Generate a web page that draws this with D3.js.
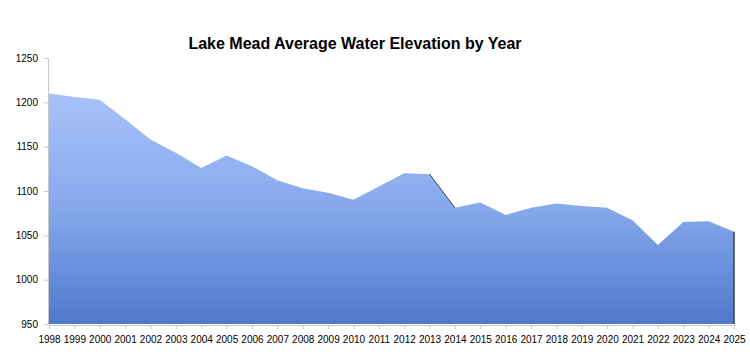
<!DOCTYPE html>
<html>
<head>
<meta charset="utf-8">
<script src="https://cdn.jsdelivr.net/npm/d3@7"></script>
<style>
  body { margin: 0; background: #fff; }
  text { font-family: "Liberation Sans", Arial, sans-serif; fill: #000; }
</style>
</head>
<body>
<svg id="chart" width="750" height="352"></svg>
<script>
// data
const years = [1998, 1999, 2000, 2001, 2002, 2003, 2004, 2005, 2006, 2007,
  2008, 2009, 2010, 2011, 2012, 2013, 2014, 2015, 2016, 2017,
  2018, 2019, 2020, 2021, 2022, 2023, 2024, 2025];
const elevation = [1210, 1206, 1203, 1181, 1158, 1143, 1126, 1140, 1128, 1112,
  1103, 1098, 1090, 1105, 1120, 1119, 1081, 1087, 1073, 1081,
  1086, 1083, 1081, 1067, 1039, 1065, 1066, 1054];
const yTicks = [950, 1000, 1050, 1100, 1150, 1200, 1250];
const title = 'Lake Mead Average Water Elevation by Year';

// layout
const plotLeft = 49, plotRight = 734, plotTop = 58, plotBottom = 324;

const svg = d3.select('#chart');

const x = d3.scalePoint()
  .domain(years)
  .range([plotLeft, plotRight]);

const y = d3.scaleLinear()
  .domain([950, 1250])
  .range([plotBottom, plotTop]);

// gradient fill like the spreadsheet area chart
const defs = svg.append('defs');
const grad = defs.append('linearGradient')
  .attr('id', 'fillGrad')
  .attr('gradientUnits', 'userSpaceOnUse')
  .attr('x1', 0).attr('x2', 0)
  .attr('y1', y(d3.max(elevation))).attr('y2', plotBottom);
grad.append('stop').attr('offset', '0%').attr('stop-color', '#a7c2fa');
grad.append('stop').attr('offset', '50%').attr('stop-color', '#86a8ec');
grad.append('stop').attr('offset', '100%').attr('stop-color', '#5079cc');

const rows = years.map((yr, i) => ({ year: yr, value: elevation[i] }));

const area = d3.area()
  .x(d => x(d.year))
  .y0(plotBottom)
  .y1(d => y(d.value));

svg.append('path')
  .datum(rows)
  .attr('d', area)
  .attr('fill', 'url(#fillGrad)');

// dark edges seen on the reference (2013->2014 slope and right side)
const i13 = years.indexOf(2013);
svg.append('line')
  .attr('x1', x(2013)).attr('y1', y(elevation[i13]))
  .attr('x2', x(2014)).attr('y2', y(elevation[i13 + 1]))
  .attr('stroke', '#2c3f66').attr('stroke-width', 1);
svg.append('line')
  .attr('x1', x(2025)).attr('y1', y(elevation[elevation.length - 1]))
  .attr('x2', x(2025)).attr('y2', plotBottom)
  .attr('stroke', '#2c3f66').attr('stroke-width', 1.5);

// y axis
const yAxis = svg.append('g')
  .attr('transform', `translate(${plotLeft - 1},0)`)
  .call(d3.axisLeft(y).tickValues(yTicks).tickSize(4).tickPadding(6).tickFormat(d3.format('d')));
yAxis.select('.domain').attr('stroke', '#c8c8c8');
yAxis.selectAll('.tick line').attr('stroke', '#c8c8c8');
yAxis.selectAll('.tick text').style('font-size', '10px').style('fill', '#000');

// x axis
const xAxis = svg.append('g')
  .attr('transform', `translate(0,${plotBottom + 1})`)
  .call(d3.axisBottom(x).tickSize(4).tickPadding(7).tickFormat(d3.format('d')));
xAxis.select('.domain').attr('stroke', '#c8c8c8');
xAxis.selectAll('.tick line').attr('stroke', '#c8c8c8');
xAxis.selectAll('.tick text').style('font-size', '10px').style('fill', '#000');

// title
svg.append('text')
  .attr('x', 355)
  .attr('y', 49)
  .attr('text-anchor', 'middle')
  .style('font-size', '16px')
  .style('font-weight', 'bold')
  .text(title);
</script>
</body>
</html>
